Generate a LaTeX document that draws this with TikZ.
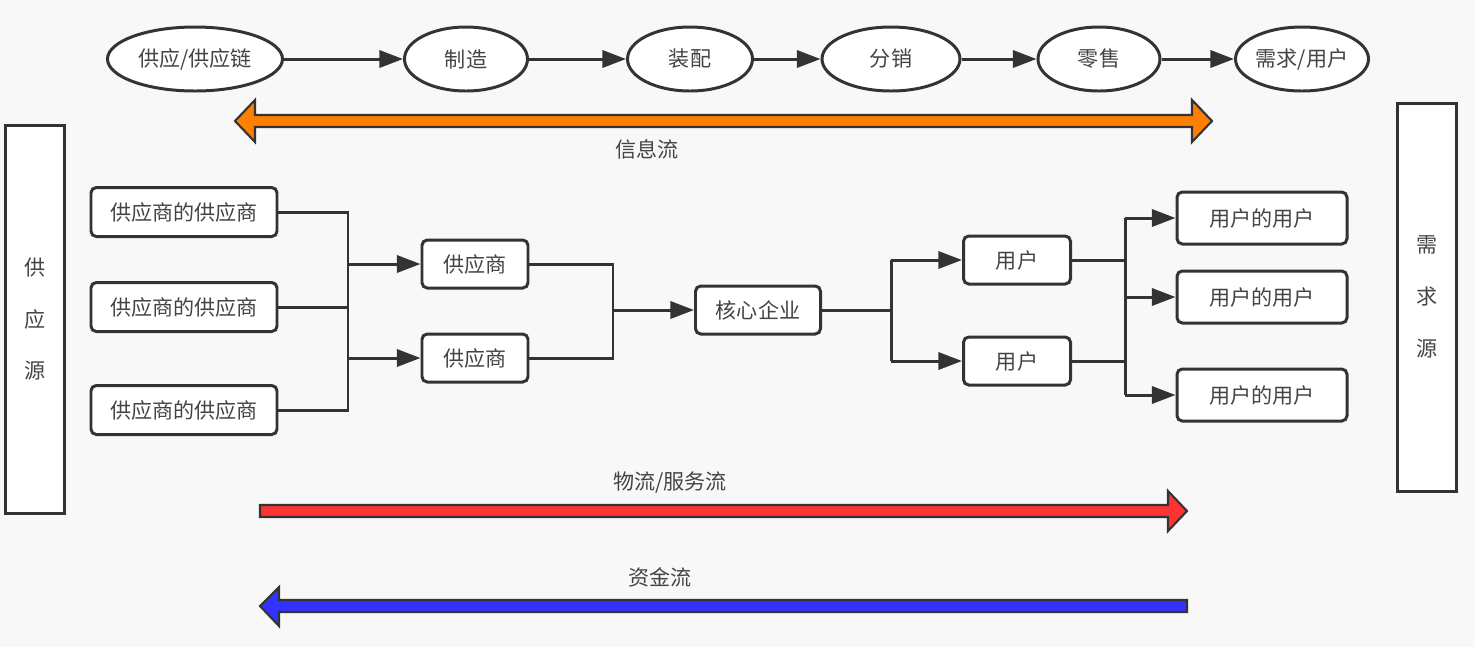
\documentclass[tikz,border=0pt]{standalone}
\usepackage{fontspec}
\setmainfont{Noto Sans CJK SC}
\usetikzlibrary{shapes.geometric,arrows.meta}
\definecolor{bg}{HTML}{F8F8F8}
\definecolor{ln}{HTML}{333333}
\definecolor{tx}{HTML}{444444}
\definecolor{org}{HTML}{FF8000}
\definecolor{rd}{HTML}{FF3333}
\definecolor{bl}{HTML}{3333FF}
\def\px{0.02cm}
\tikzset{
  every node/.style={font=\fontsize{12}{14}\selectfont, text=tx},
  ell/.style={ellipse, draw=ln, line width=1.7pt, fill=white, inner sep=0pt},
  rbox/.style={rectangle, rounded corners=3pt, draw=ln, line width=1.7pt, fill=white, inner sep=0pt},
  sbox/.style={rectangle, draw=ln, line width=1.7pt, fill=white, inner sep=0pt, align=center,
    font=\fontsize{12}{29.5}\selectfont},
  conn/.style={draw=ln, line width=1.7pt},
  arr/.style={conn, -{Triangle[length=13.5pt,width=9.8pt]}},
  big/.style={draw=ln, line width=1.2pt, line join=miter},
}
\begin{document}
\begin{tikzpicture}[x=0.02cm,y=-0.02cm]
\fill[bg] (0,0) rectangle (1475,647);
\useasboundingbox (0,0) rectangle (1475,647);

% top chain
\node[ell, minimum width={175*\px}, minimum height={64*\px}] (e1) at (195,59) {供应/供应链};
\node[ell, minimum width={123*\px}, minimum height={64*\px}] (e2) at (466,59) {制造};
\node[ell, minimum width={125*\px}, minimum height={64*\px}] (e3) at (690,59) {装配};
\node[ell, minimum width={138*\px}, minimum height={64*\px}] (e4) at (891,59) {分销};
\node[ell, minimum width={122*\px}, minimum height={64*\px}] (e5) at (1099,59) {零售};
\node[ell, minimum width={133*\px}, minimum height={64*\px}] (e6) at (1302,59) {需求/用户};
\draw[arr] (e1) -- (e2);
\draw[arr] (e2) -- (e3);
\draw[arr] (e3) -- (e4);
\draw[arr] (e4) -- (e5);
\draw[arr] (e5) -- (e6);

% info flow
\filldraw[big, fill=org] (235,121) -- (255,100) -- (255,115) -- (1192,115) -- (1192,100) -- (1212,121)
  -- (1192,142) -- (1192,127) -- (255,127) -- (255,142) -- cycle;
\node (linfo) at (647,149) {信息流};

% side boxes
\node[sbox, minimum width={59*\px}, minimum height={388*\px}] (src) at (35,319) {供\\应\\源};
\node[sbox, minimum width={59*\px}, minimum height={388*\px}] (dem) at (1427,297) {需\\求\\源};

% nodes
\node[rbox, minimum width={186*\px}, minimum height={49*\px}] (ss1) at (184,212) {供应商的供应商};
\node[rbox, minimum width={186*\px}, minimum height={49*\px}] (ss2) at (184,307) {供应商的供应商};
\node[rbox, minimum width={186*\px}, minimum height={49*\px}] (ss3) at (184,410) {供应商的供应商};
\node[rbox, minimum width={106*\px}, minimum height={48*\px}] (s1) at (475,264) {供应商};
\node[rbox, minimum width={106*\px}, minimum height={48*\px}] (s2) at (475,358) {供应商};
\node[rbox, minimum width={125*\px}, minimum height={48*\px}] (core) at (758,310) {核心企业};
\node[rbox, minimum width={107*\px}, minimum height={48*\px}] (u1) at (1017,260) {用户};
\node[rbox, minimum width={107*\px}, minimum height={48*\px}] (u2) at (1017,361) {用户};
\node[rbox, minimum width={170*\px}, minimum height={52*\px}] (uu1) at (1262,218) {用户的用户};
\node[rbox, minimum width={170*\px}, minimum height={52*\px}] (uu2) at (1262,297) {用户的用户};
\node[rbox, minimum width={170*\px}, minimum height={52*\px}] (uu3) at (1262,395) {用户的用户};

\coordinate (j1) at (348,310);
\coordinate (j2) at (613,310);
\coordinate (j3) at (891,310);
\coordinate (j4) at (1125,310);

\draw[conn] (ss1.east) -| (j1) |- (ss3.east);
\draw[conn] (ss2.east) -- (ss2.east -| j1);
\draw[arr] (j1 |- s1.west) -- (s1.west);
\draw[arr] (j1 |- s2.west) -- (s2.west);

\draw[conn] (s1.east) -| (j2) |- (s2.east);
\draw[arr] (j2 |- core.west) -- (core.west);

\draw[conn] (core.east) -- (core.east -| j3);
\draw[conn] (j3 |- u1.west) -- (j3 |- u2.west);
\draw[arr] (j3 |- u1.west) -- (u1.west);
\draw[arr] (j3 |- u2.west) -- (u2.west);

\draw[conn] (u1.east) -- (u1.east -| j4);
\draw[conn] (u2.east) -- (u2.east -| j4);
\draw[conn] (j4 |- uu1.west) -- (j4 |- uu3.west);
\draw[arr] (j4 |- uu1.west) -- (uu1.west);
\draw[arr] (j4 |- uu2.west) -- (uu2.west);
\draw[arr] (j4 |- uu3.west) -- (uu3.west);

% material flow
\node (lmat) at (670,483) {物流/服务流};
\filldraw[big, fill=rd] (260,505) -- (1168,505) -- (1168,491) -- (1187,511) -- (1168,531) -- (1168,517)
  -- (260,517) -- cycle;

% money flow
\node (lmon) at (660,577) {资金流};
\filldraw[big, fill=bl] (260,606) -- (279,587) -- (279,600) -- (1187,600) -- (1187,612) -- (279,612)
  -- (279,626) -- cycle;
\end{tikzpicture}
\end{document}
